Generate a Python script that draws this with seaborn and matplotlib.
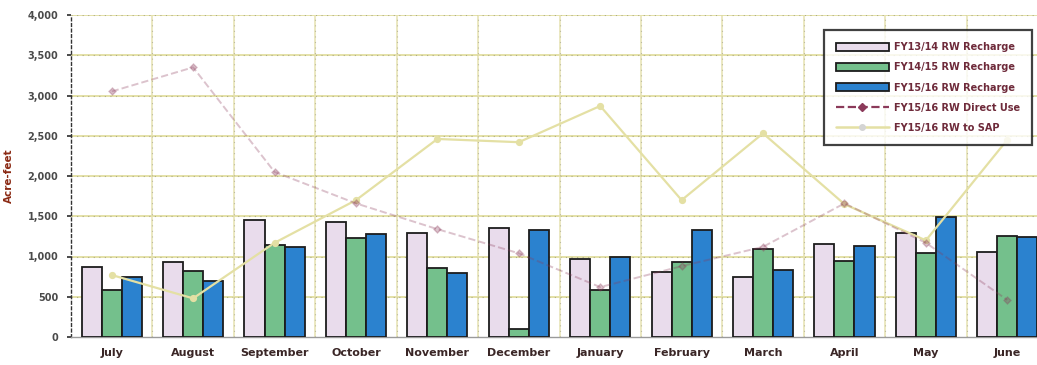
import numpy as np
import pandas as pd
import matplotlib
matplotlib.use("Agg")
import matplotlib.pyplot as plt
from matplotlib.patches import Patch
from matplotlib.lines import Line2D
import seaborn as sns

months = ["July", "August", "September", "October", "November", "December",
          "January", "February", "March", "April", "May", "June"]
fy1314_recharge = [870, 930, 1450, 1430, 1290, 1350, 975, 810, 745, 1150, 1295, 1055]
fy1415_recharge = [580, 825, 1140, 1230, 855, 95, 590, 930, 1090, 950, 1040, 1255]
fy1516_recharge = [745, 700, 1118, 1275, 790, 1325, 995, 1330, 832, 1130, 1495, 1240]
fy1516_direct_use = [3050, 3350, 2050, 1660, 1340, 1040, 620, 880, 1120, 1660, 1170, 460]
fy1516_to_sap = [770, 480, 1170, 1700, 2460, 2420, 2870, 1700, 2530, 1650, 1200, 2450]

bar_labels = ["FY13/14 RW Recharge", "FY14/15 RW Recharge", "FY15/16 RW Recharge"]
line_labels = ["FY15/16 RW Direct Use", "FY15/16 RW to SAP"]
yticks = [0, 500, 1000, 1500, 2000, 2500, 3000, 3500, 4000]

bar_colors = ["#e9dcec", "#74c08c", "#2b82cf"]
direct_color = "#8b3a5a"
sap_color = "#e4e0a4"

df = pd.DataFrame({
    "month": months * 3,
    "value": fy1314_recharge + fy1415_recharge + fy1516_recharge,
    "series": sum([[lab] * len(months) for lab in bar_labels], []),
})

sns.set_theme(style="white")
plt.rcParams["font.family"] = ["DejaVu Sans"]

fig = plt.figure(figsize=(10.37, 3.65), dpi=100)
ax = fig.add_axes([71 / 1037, 28 / 365, 977 / 1037, 322 / 365])

sns.barplot(data=df, x="month", y="value", hue="series", order=months,
            hue_order=bar_labels, palette=bar_colors, width=0.74, gap=0.0,
            saturation=1, edgecolor="#1c1c1c", linewidth=1.3, legend=False,
            ax=ax, zorder=3)

sns.pointplot(x=months, y=fy1516_to_sap, color=sap_color, markers="o",
              linestyles="-", linewidth=1.6, markersize=4, ax=ax, zorder=4)
sns.pointplot(x=months, y=fy1516_direct_use, color=direct_color, markers="D",
              linestyles="--", linewidth=1.4, markersize=3.5, ax=ax, zorder=5,
              alpha=0.3)

ax.set_ylim(0, 4000)
ax.set_xlim(-0.5, 11.5)
ax.set_yticks(yticks)
ax.set_yticklabels([f"{v:,}" for v in yticks], fontsize=7, fontweight="bold",
                   color="#4a4a4a")
ax.set_xticks(range(len(months)))
ax.set_xticklabels(months, fontsize=8, fontweight="bold", color="#3a2626")
ax.tick_params(axis="x", length=0, pad=8)
ax.tick_params(axis="y", length=3, pad=6, color="#333333", left=True)
ax.set_xlabel("")
ax.set_ylabel("Acre-feet", fontsize=7.5, fontweight="bold", color="#8b2a14",
              labelpad=10)

# gridlines: pale yellow with a faint dark dotted overlay (scan look)
for y in yticks[1:]:
    ax.axhline(y, color="#e2dea0", lw=1.3, zorder=1)
    ax.axhline(y, color="#333333", lw=0.8, ls=(0, (1, 4)), alpha=0.3, zorder=1)
for x in np.arange(0.5, 11.5, 1.0):
    ax.axvline(x, color="#e6e2b0", lw=1.1, zorder=1)
    ax.axvline(x, color="#333333", lw=0.8, ls=(0, (1, 4)), alpha=0.25, zorder=1)

for s in ["top", "right"]:
    ax.spines[s].set_visible(False)
ax.spines["left"].set_color("#333333")
ax.spines["left"].set_linestyle((0, (2, 2)))
ax.spines["left"].set_linewidth(1.0)
ax.spines["bottom"].set_color("#9a9a9a")
ax.spines["bottom"].set_linewidth(1.0)

handles = [Patch(facecolor=c, edgecolor="#1c1c1c", linewidth=1.3) for c in bar_colors]
handles.append(Line2D([0], [0], color=direct_color, ls="--", lw=1.6, marker="D",
                      markersize=4))
handles.append(Line2D([0], [0], color=sap_color, ls="-", lw=1.8, marker="o",
                      markersize=4, markerfacecolor="#d4d4d4",
                      markeredgecolor="#d4d4d4"))
leg = ax.legend(handles, bar_labels + line_labels, loc="upper right",
                bbox_to_anchor=(0.984, 0.953), borderaxespad=0, frameon=True,
                fancybox=False, fontsize=7, handlelength=5.5, handleheight=0.9,
                labelspacing=1.05, borderpad=1.25, handletextpad=0.5)
leg.get_frame().set_edgecolor("#111111")
leg.get_frame().set_linewidth(1.6)
leg.get_frame().set_facecolor("white")
leg.set_zorder(10)
for t in leg.get_texts():
    t.set_fontweight("bold")
    t.set_color("#6e2a3a")

fig.savefig("out.png", dpi=100, facecolor="white")
